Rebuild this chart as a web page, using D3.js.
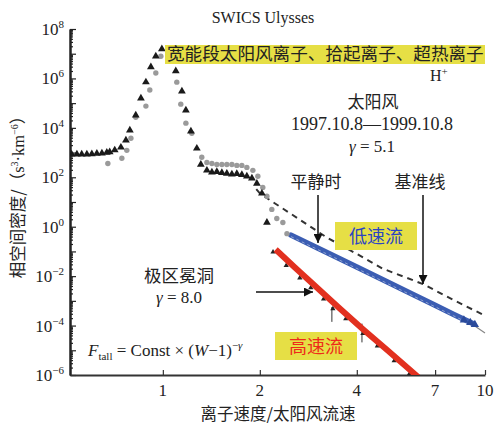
<!DOCTYPE html>
<html><head><meta charset="utf-8">
<script src="https://cdn.jsdelivr.net/npm/d3@7"></script>
<style>body{margin:0;background:#fff}</style>
</head><body>
<svg id="c" width="496" height="427"></svg>
<script>
// ---- data (W = ion speed / solar wind speed, value = log10 phase-space density) ----
const xTicks = [1, 2, 4, 7, 10];
const yLabelExps = [8, 6, 4, 2, 0, -2, -4, -6];
const blackTri = [
 [0.521,2.93],[0.541,2.93],[0.560,2.93],[0.581,2.93],[0.602,2.94],[0.624,2.96],[0.647,2.97],
 [0.670,3.00],[0.684,3.02],[0.709,3.10],[0.741,3.21],[0.768,3.50],[0.790,3.90],[0.824,4.51],
 [0.855,5.20],[0.886,5.85],[0.918,6.46],[0.951,6.90],[0.993,7.19],[1.097,6.30],[1.146,5.48],
 [1.179,4.71],[1.222,3.86],[1.275,3.17],[1.312,2.52],[1.370,2.28],[1.420,2.20],[1.471,2.22],
 [1.525,2.18],[1.580,2.15],[1.638,2.12],[1.697,2.14],[1.759,2.10],[1.823,2.04],[1.890,1.96],
 [1.958,1.75],[2.030,1.35],[2.104,0.17]
];
const grayCirc = [
 [0.675,2.56],[0.746,2.77],[0.773,3.09],[0.796,3.58],[0.824,4.43],[0.886,4.88],[0.911,5.53],
 [0.951,6.22],[0.986,6.90],[1.105,5.85],[1.137,4.96],[1.179,4.19],[1.230,3.78],[1.321,2.81],
 [1.370,2.60],[1.420,2.56],[1.471,2.52],[1.525,2.52],[1.580,2.52],[1.638,2.52],[1.697,2.48],
 [1.759,2.48],[1.823,2.40],[1.903,2.28],[1.972,2.04],[2.043,1.59],[2.104,1.23],[2.179,0.70],
 [2.258,0.33],[2.358,0.17],[2.428,-0.28]
];
const baselineCurve = [
 [1.95,1.52],[2.0,1.35],[2.23,0.94],[2.63,0.33],[3.23,-0.44],[4.0,-1.10],[4.82,-1.70],
 [6.42,-2.32],[8.0,-2.97],[10,-3.60]
];
const slowWind = [
 [2.5,-0.34],[3,-0.84],[4,-1.63],[5,-2.25],[6,-2.75],[7,-3.18],[8,-3.55],[9.2,-3.93]
];
const slowTail = [[2.5,-0.40],[4,-1.70],[6,-2.82],[9.2,-3.98],[10,-4.30]];
const slowTri = [[8.6,-3.78],[9.0,-3.88],[9.3,-3.96]];
const fastWind = [
 [2.24,-0.92],[2.57,-1.65],[3.0,-2.45],[3.5,-3.25],[4.18,-4.15],[5.0,-5.02],[6.15,-6.04],[6.6,-6.4]
];
const fastTri = [
 [2.23,-0.90],[2.45,-1.45],[2.70,-1.95],[2.92,-2.35],[3.20,-2.80],[3.42,-3.20],[3.75,-3.60],
 [4.24,-4.20],[4.70,-4.70],[5.30,-5.30],[5.90,-5.85]
];
const fastErr = [[3.42,-3.55,0.30],[4.24,-4.30,0.38]];

// ---- scales ----
const svg = d3.select("#c");
const x = d3.scaleLog().domain([0.515, 10]).range([70, 485]);
const y = d3.scaleLog().domain([1e-6, 1e8]).range([375, 29]);
const P = d => [x(d[0]), y(Math.pow(10, d[1]))];
const serif = "'Liberation Serif','Times New Roman',serif";
const cjk = "'Noto Sans CJK SC','Noto Sans',sans-serif";

svg.append("defs").append("clipPath").attr("id","clip")
  .append("rect").attr("x",70).attr("y",20).attr("width",420).attr("height",355);
svg.select("defs").append("marker").attr("id","ah").attr("viewBox","0 0 10 10")
  .attr("refX",10).attr("refY",5).attr("markerWidth",9).attr("markerHeight",9)
  .attr("markerUnits","userSpaceOnUse").attr("orient","auto")
  .append("path").attr("d","M0,0L10,5L0,10z").attr("fill","#111");

// ---- axes ----
const majors = d3.range(-6, 9).map(e => Math.pow(10, e));
const minors = [];
for (let e = -6; e < 8; e++) for (let k = 2; k <= 9; k++) minors.push(k * Math.pow(10, e));
const gMin = svg.append("g").attr("transform","translate(70,0)")
  .call(d3.axisRight(y).tickValues(minors).tickSize(3).tickSizeOuter(0).tickFormat(""));
const gMaj = svg.append("g").attr("transform","translate(70,0)")
  .call(d3.axisRight(y).tickValues(majors).tickSize(6).tickSizeOuter(0).tickFormat(""));
[gMin, gMaj].forEach(g => { g.selectAll("line").attr("stroke","#222").attr("stroke-width",1.2);
  g.select(".domain").attr("stroke","#222").attr("stroke-width",2); });
const gx = svg.append("g").attr("transform","translate(0,375)")
  .call(d3.axisTop(x).tickValues(xTicks).tickSize(5).tickSizeOuter(0).tickFormat(""));
gx.selectAll("line").attr("stroke","#333").attr("stroke-width",1.2);
gx.select(".domain").attr("stroke","#333").attr("stroke-width",2);

// x tick labels
svg.append("g").selectAll("text").data(xTicks).join("text")
  .attr("x", d => x(d)).attr("y", 396).attr("text-anchor","middle")
  .attr("font-family", serif).attr("font-size", 17).attr("fill","#222").text(d => d);
// y tick labels
const yl = svg.append("g").selectAll("text").data(yLabelExps).join("text")
  .attr("x", 64).attr("y", d => y(Math.pow(10,d)) + 6).attr("text-anchor","end")
  .attr("font-family", serif).attr("font-size", 17).attr("fill","#222");
yl.append("tspan").text("10");
yl.append("tspan").attr("dy",-7).attr("font-size",11).text(d => d < 0 ? "\u2212" + (-d) : d);

// ---- data marks ----
const plot = svg.append("g").attr("clip-path","url(#clip)");
const line = d3.line().x(d => P(d)[0]).y(d => P(d)[1]);
plot.append("path").datum(slowTail).attr("d", line).attr("fill","none")
  .attr("stroke","#888").attr("stroke-width",1.2);
plot.append("path").datum(slowWind).attr("d", line).attr("fill","none")
  .attr("stroke","#3b5db3").attr("stroke-width",5.5).attr("stroke-linecap","round");
plot.append("path").datum(slowWind).attr("d", line).attr("fill","none")
  .attr("stroke","#b8c4e0").attr("stroke-width",0.7).attr("stroke-dasharray","3,3")
  .attr("transform","translate(0,1.5)");
plot.selectAll(".st").data(slowTri).join("path")
  .attr("transform", d => `translate(${P(d)})`)
  .attr("d", d3.symbol(d3.symbolTriangle, 30)).attr("fill","#2b4a9a");
plot.append("path").datum(baselineCurve).attr("d", line).attr("fill","none")
  .attr("stroke","#333").attr("stroke-width",2).attr("stroke-dasharray","6,5");

// fast wind black markers & error bars
plot.selectAll(".fe").data(fastErr).join("line")
  .attr("x1", d => P(d)[0]-3).attr("x2", d => P(d)[0]-3)
  .attr("y1", d => y(Math.pow(10, d[1] + d[2]))).attr("y2", d => y(Math.pow(10, d[1] - d[2])))
  .attr("stroke","#333").attr("stroke-width",1);
plot.selectAll(".ft").data(fastTri).join("path")
  .attr("transform", d => `translate(${P(d)[0]-2},${P(d)[1]+3})`)
  .attr("d", d3.symbol(d3.symbolTriangle, 12)).attr("fill","#222");
plot.append("path").datum(fastWind).attr("d", line).attr("fill","none")
  .attr("stroke","#e2301f").attr("stroke-width",6);

plot.selectAll(".gc").data(grayCirc).join("circle")
  .attr("cx", d => P(d)[0]).attr("cy", d => P(d)[1]).attr("r", 2.7).attr("fill","#9a9a9a");
plot.selectAll(".bt").data(blackTri).join("path")
  .attr("transform", d => `translate(${P(d)})`)
  .attr("d", d3.symbol(d3.symbolTriangle, 26)).attr("fill","#1a1a1a");

// ---- annotations ----
svg.append("text").attr("x",263).attr("y",23).attr("text-anchor","middle")
  .attr("font-family",serif).attr("font-size",16).attr("fill","#222").text("SWICS Ulysses");
svg.append("rect").attr("x",165).attr("y",45).attr("width",320).attr("height",19).attr("fill","#e6df45");
svg.append("text").attr("x",167).attr("y",60).attr("font-family",cjk).attr("font-size",17.6)
  .attr("fill","#222").text("宽能段太阳风离子、拾起离子、超热离子");
const hp = svg.append("text").attr("x",430).attr("y",81).attr("font-family",serif).attr("font-size",16).attr("fill","#222");
hp.append("tspan").text("H");
hp.append("tspan").attr("dy",-6).attr("font-size",11).text("+");

svg.append("text").attr("x",373).attr("y",108).attr("text-anchor","middle")
  .attr("font-family",cjk).attr("font-size",17).attr("fill","#222").text("太阳风");
svg.append("text").attr("x",372).attr("y",130).attr("text-anchor","middle")
  .attr("font-family",serif).attr("font-size",18).attr("fill","#222").text("1997.10.8—1999.10.8");
const g1 = svg.append("text").attr("x",372).attr("y",152).attr("text-anchor","middle")
  .attr("font-family",serif).attr("font-size",17).attr("fill","#222");
g1.append("tspan").attr("font-style","italic").text("γ");
g1.append("tspan").text(" = 5.1");

svg.append("text").attr("x",316).attr("y",188).attr("text-anchor","middle")
  .attr("font-family",cjk).attr("font-size",17).attr("fill","#222").text("平静时");
svg.append("text").attr("x",420).attr("y",188).attr("text-anchor","middle")
  .attr("font-family",cjk).attr("font-size",17).attr("fill","#222").text("基准线");
svg.append("line").attr("x1",318).attr("y1",195).attr("x2",318).attr("y2",243)
  .attr("stroke","#111").attr("stroke-width",1.5).attr("marker-end","url(#ah)");
svg.append("line").attr("x1",423).attr("y1",195).attr("x2",423).attr("y2",284)
  .attr("stroke","#111").attr("stroke-width",1.5).attr("marker-end","url(#ah)");

svg.append("rect").attr("x",335).attr("y",222).attr("width",82).attr("height",28).attr("fill","#e6df45");
svg.append("text").attr("x",376).attr("y",243).attr("text-anchor","middle")
  .attr("font-family",cjk).attr("font-size",18).attr("fill","#2b44c4").text("低速流");
svg.append("rect").attr("x",275).attr("y",332).attr("width",82).attr("height",28).attr("fill","#e6df45");
svg.append("text").attr("x",316).attr("y",353).attr("text-anchor","middle")
  .attr("font-family",cjk).attr("font-size",18).attr("fill","#ee2a1a").text("高速流");

svg.append("text").attr("x",179).attr("y",282).attr("text-anchor","middle")
  .attr("font-family",cjk).attr("font-size",17.5).attr("fill","#222").text("极区冕洞");
const g2 = svg.append("text").attr("x",179).attr("y",303).attr("text-anchor","middle")
  .attr("font-family",serif).attr("font-size",17).attr("fill","#222");
g2.append("tspan").attr("font-style","italic").text("γ");
g2.append("tspan").text(" = 8.0");
svg.append("line").attr("x1",256).attr("y1",292).attr("x2",313).attr("y2",292)
  .attr("stroke","#111").attr("stroke-width",1.5).attr("marker-end","url(#ah)");

const f = svg.append("text").attr("x",88).attr("y",356).attr("font-family",serif)
  .attr("font-size",17).attr("fill","#222");
f.append("tspan").attr("font-style","italic").text("F");
f.append("tspan").attr("dy",4).attr("font-size",11).text("tall");
f.append("tspan").attr("dy",-4).text(" = Const × (");
f.append("tspan").attr("font-style","italic").text("W");
f.append("tspan").text("−1)");
f.append("tspan").attr("dy",-7).attr("font-size",11).text("−");
f.append("tspan").attr("font-size",11).attr("font-style","italic").text("γ");

svg.append("text").attr("x",278).attr("y",420).attr("text-anchor","middle")
  .attr("font-family",cjk).attr("font-size",16.5).attr("fill","#222").text("离子速度/太阳风流速");

const yt = svg.append("text").attr("transform","translate(24,193) rotate(-90)")
  .attr("text-anchor","middle").attr("font-family",cjk).attr("font-size",16.5).attr("fill","#222");
yt.append("tspan").text("相空间密度/（");
yt.append("tspan").attr("font-family",serif).text("s");
yt.append("tspan").attr("dy",-6).attr("font-size",10).attr("font-family",serif).text("3");
yt.append("tspan").attr("dy",6).attr("font-family",serif).text("·km");
yt.append("tspan").attr("dy",-6).attr("font-size",10).attr("font-family",serif).text("−6");
yt.append("tspan").attr("dy",6).text("）");
</script>
</body></html>
